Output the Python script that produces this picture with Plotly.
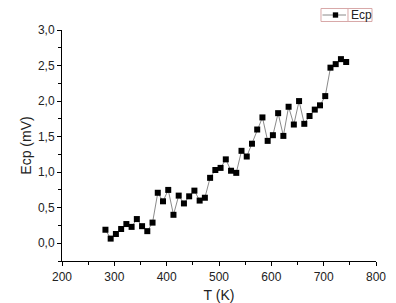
import plotly.graph_objects as go

T = [283 + 10 * i for i in range(47)]
Ecp = [0.19, 0.065, 0.13, 0.20, 0.27, 0.23, 0.34, 0.24, 0.17, 0.29,
       0.71, 0.59, 0.75, 0.40, 0.67, 0.56, 0.66, 0.74, 0.60, 0.64,
       0.92, 1.03, 1.06, 1.18, 1.02, 0.99, 1.30, 1.22, 1.40, 1.60,
       1.77, 1.44, 1.52, 1.83, 1.51, 1.92, 1.67, 2.00, 1.68, 1.79,
       1.88, 1.94, 2.07, 2.47, 2.52, 2.59, 2.55]
series_name = "Ecp"

fig = go.Figure()
fig.add_trace(go.Scatter(
    x=T, y=Ecp, mode="lines+markers", name=series_name,
    line=dict(color="#8a8a8a", width=1),
    marker=dict(symbol="square", size=6, color="black"),
    showlegend=False,
))

family = "Liberation Sans, Arial, sans-serif"
font = dict(family=family, size=12, color="#222")

# Origin-style legend box drawn in paper coordinates
bx0, bx1, by0, by1 = 0.8248, 0.9873, 1.0368, 1.0931
ly = 1.0649
shapes = [
    dict(type="rect", xref="paper", yref="paper", x0=bx0, x1=bx1, y0=by0, y1=by1,
         line=dict(color="#d8a8a8", width=1), fillcolor="white", layer="above"),
    dict(type="line", xref="paper", yref="paper", x0=0.9108, x1=0.9108, y0=by0, y1=by1,
         line=dict(color="#d8a8a8", width=1), layer="above"),
    dict(type="line", xref="paper", yref="paper", x0=0.8296, x1=0.9045, y0=ly, y1=ly,
         line=dict(color="#8a8a8a", width=1), layer="above"),
    dict(type="rect", xref="paper", yref="paper", x0=0.871 - 0.0085, x1=0.871 + 0.0085,
         y0=ly - 0.0115, y1=ly + 0.0115, line=dict(width=0), fillcolor="black", layer="above"),
]

fig.update_layout(
    width=396, height=303,
    margin=dict(l=62, r=20, t=30, b=42),
    paper_bgcolor="white", plot_bgcolor="white",
    separators=", ",
    font=font,
    showlegend=False,
    shapes=shapes,
    annotations=[dict(text=series_name, xref="paper", yref="paper", x=0.913, y=ly,
                      xanchor="left", yanchor="middle", showarrow=False,
                      font=dict(family=family, size=12, color="#222"))],
    xaxis=dict(range=[200, 800], dtick=100, tick0=200, showline=True, linecolor="black",
               linewidth=1, ticks="outside", ticklen=4, tickcolor="black",
               showgrid=False, zeroline=False, ticklabelstandoff=1, automargin=False,
               minor=dict(dtick=50, ticks="outside", ticklen=3, tickcolor="black", showgrid=False),
               title=dict(text="T (K)", standoff=8)),
    yaxis=dict(range=[-0.25, 3.0], dtick=0.5, tick0=0, tickformat=".1f", showline=True,
               linecolor="black", linewidth=1, ticks="outside", ticklen=4, tickcolor="black",
               showgrid=False, zeroline=False, automargin=False,
               minor=dict(dtick=0.25, ticks="outside", ticklen=3, tickcolor="black", showgrid=False),
               title=dict(text="Ecp (mV)", standoff=3)),
)
fig.write_html("out.html")
